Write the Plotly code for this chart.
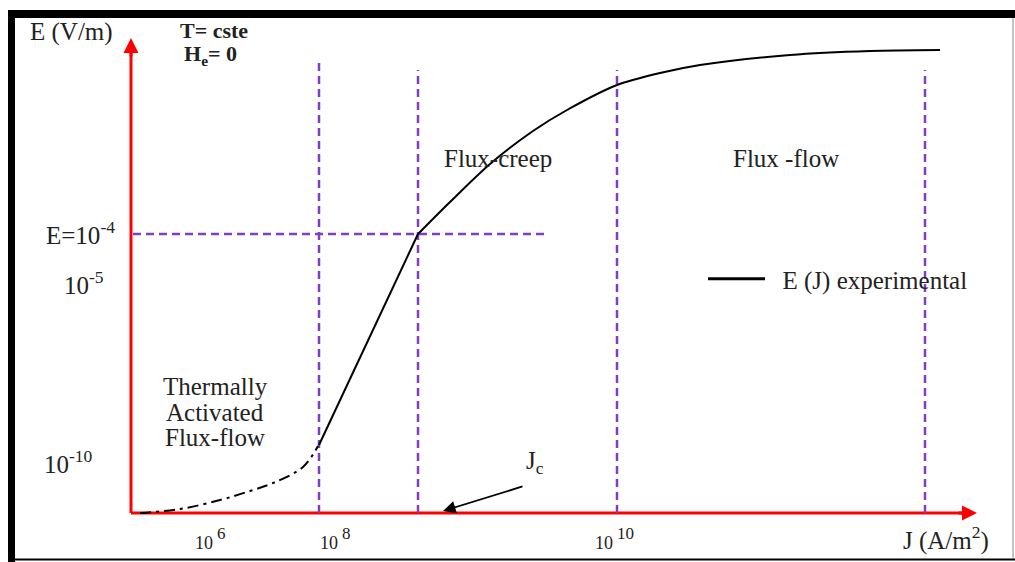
import plotly.graph_objects as go

# ---- schematic data (x: position along J axis, y: position along E axis; schematic units) ----
# thermally activated flux-flow branch (dash-dot)
ta_x = [9, 49, 89, 119, 142, 172, 187]
ta_y = [0, 4, 13, 22, 30, 46, 67]
# flux-creep straight branch
creep_x = [188, 287]
creep_y = [68, 279]
# flux-creep -> flux-flow curved branch
flow_x = [287, 319, 359, 402, 436, 486, 529, 569, 659, 739, 809]
flow_y = [279, 311, 349, 382, 403, 428, 440, 448, 458, 462, 463]

# regime boundaries (vertical dashed lines)
bound_x = [188, 287, 486, 794]
bound_top = [454, 443, 443, 443]
# E = 1e-4 criterion (horizontal dashed line)
crit_x = [2, 414]
crit_y = [279, 279]

# axes extents
x_axis_end = 846
y_axis_end = 475

# tick labels along J (base + exponent)
xtick_pos = [82, 207, 482]
xtick_base = ["10", "10", "10"]
xtick_exp = ["6", "8", "10"]
# tick labels along E
ytick_pos = [280, 230, 51]
ytick_x = [-14, -69, -89]
ytick_text = ["E=10<sup>-4</sup>", "10<sup>-5</sup>", "10<sup>-10</sup>"]
ytick_anchor = ["right", "left", "left"]

# Jc arrow
jc_tail = (393, 27)
jc_head = (312, 2)

RED = "#FF0000"
PURPLE = "#7F3FBF"
TXT = "#222222"
SERIF = "Liberation Serif"

fig = go.Figure()

# axes lines
fig.add_trace(go.Scatter(x=[0, x_axis_end - 10], y=[0, 0], mode="lines",
                         line=dict(color=RED, width=3), showlegend=False, hoverinfo="skip"))
fig.add_trace(go.Scatter(x=[0, 0], y=[0, y_axis_end - 10], mode="lines",
                         line=dict(color=RED, width=3), showlegend=False, hoverinfo="skip"))

# vertical dashed boundaries
for bx, bt in zip(bound_x, bound_top):
    fig.add_trace(go.Scatter(x=[bx, bx], y=[0, bt], mode="lines",
                             line=dict(color=PURPLE, width=2.5, dash="8px,5px"),
                             showlegend=False, hoverinfo="skip"))
# horizontal dashed criterion
fig.add_trace(go.Scatter(x=crit_x, y=crit_y, mode="lines",
                         line=dict(color=PURPLE, width=2.5, dash="8px,5px"),
                         showlegend=False, hoverinfo="skip"))

# curves
fig.add_trace(go.Scatter(x=ta_x, y=ta_y, mode="lines",
                         line=dict(color="black", width=2, dash="11px,5px,3px,5px", shape="spline"),
                         showlegend=False, hoverinfo="skip"))
fig.add_trace(go.Scatter(x=creep_x, y=creep_y, mode="lines",
                         line=dict(color="black", width=2), legendgroup="e",
                         showlegend=False, hoverinfo="skip"))
fig.add_trace(go.Scatter(x=flow_x, y=flow_y, mode="lines",
                         line=dict(color="black", width=2, shape="spline", smoothing=0.8),
                         legendgroup="e", showlegend=False, hoverinfo="skip"))
# legend entry
fig.add_trace(go.Scatter(x=[None], y=[None], mode="lines", name="\u00a0\u00a0E (J) experimental",
                         line=dict(color="black", width=3), legendgroup="e", showlegend=True))

annotations = []
# arrowheads of axes
annotations.append(dict(x=x_axis_end, y=0, ax=x_axis_end - 20, ay=0, xref="x", yref="y",
                        axref="x", ayref="y", text="", showarrow=True, arrowhead=2,
                        arrowsize=1, arrowwidth=3, arrowcolor=RED, standoff=0))
annotations.append(dict(x=0, y=y_axis_end, ax=0, ay=y_axis_end - 20, xref="x", yref="y",
                        axref="x", ayref="y", text="", showarrow=True, arrowhead=2,
                        arrowsize=1, arrowwidth=3, arrowcolor=RED, standoff=0))
# Jc arrow
annotations.append(dict(x=jc_head[0], y=jc_head[1], ax=jc_tail[0], ay=jc_tail[1], xref="x", yref="y",
                        axref="x", ayref="y", text="", showarrow=True, arrowhead=2,
                        arrowsize=1.4, arrowwidth=1.8, arrowcolor="black", standoff=0))


def txt(x, y, s, size=25, bold=False, xanchor="center", yanchor="middle"):
    annotations.append(dict(x=x, y=y, xref="x", yref="y", text=(f"<b>{s}</b>" if bold else s),
                            showarrow=False, xanchor=xanchor, yanchor=yanchor,
                            font=dict(family=SERIF, size=size, color=TXT)))


txt(-60, 481, "E (V/m)")
txt(83, 483, "T= cste", size=22, bold=True)
txt(79, 458, "H<sub>e</sub>= 0", size=22, bold=True)
for xp, yp, s, anc in zip(ytick_x, ytick_pos, ytick_text, ytick_anchor):
    txt(xp, yp, s, xanchor=anc)
for xp, b, e in zip(xtick_pos, xtick_base, xtick_exp):
    txt(xp + 2, -30, b, size=18, xanchor="right")
    txt(xp + 2, -20, e, size=17, xanchor="left")
txt(84, 127, "Thermally")
txt(84, 101, "Activated")
txt(84, 76, "Flux-flow")
txt(367, 355, "Flux-creep")
txt(655, 355, "Flux -flow")
txt(404, 51, "J<sub>c</sub>")
txt(815, -25, "J (A/m<sup>2</sup>)")

# frame
shapes = [
    dict(type="rect", xref="paper", yref="paper", x0=8 / 1015, x1=15 / 1015, y0=0, y1=1 - 10 / 562,
         fillcolor="black", line=dict(width=0)),
    dict(type="rect", xref="paper", yref="paper", x0=8 / 1015, x1=1, y0=1 - 18 / 562, y1=1 - 10 / 562,
         fillcolor="black", line=dict(width=0)),
    dict(type="line", xref="paper", yref="paper", x0=15 / 1015, x1=1, y0=1 - 559.5 / 562, y1=1 - 559.5 / 562,
         line=dict(color="black", width=2)),
    dict(type="line", xref="paper", yref="paper", x0=1013 / 1015, x1=1013 / 1015, y0=1 - 559 / 562, y1=1 - 18 / 562,
         line=dict(color="#888888", width=1)),
]

fig.update_layout(
    width=1015, height=562,
    margin=dict(l=0, r=0, t=0, b=0),
    paper_bgcolor="white", plot_bgcolor="white",
    xaxis=dict(range=[-131, 884], visible=False, fixedrange=True),
    yaxis=dict(range=[-49, 513], visible=False, fixedrange=True),
    showlegend=True,
    legend=dict(x=703 / 1015, y=1 - 279 / 562, xanchor="left", yanchor="middle",
                bgcolor="rgba(0,0,0,0)", font=dict(family=SERIF, size=25, color=TXT),
                itemwidth=57),
    annotations=annotations,
    shapes=shapes,
)

fig.write_html("out.html", config={"displayModeBar": False},
               post_script="document.body.style.margin='0';")
